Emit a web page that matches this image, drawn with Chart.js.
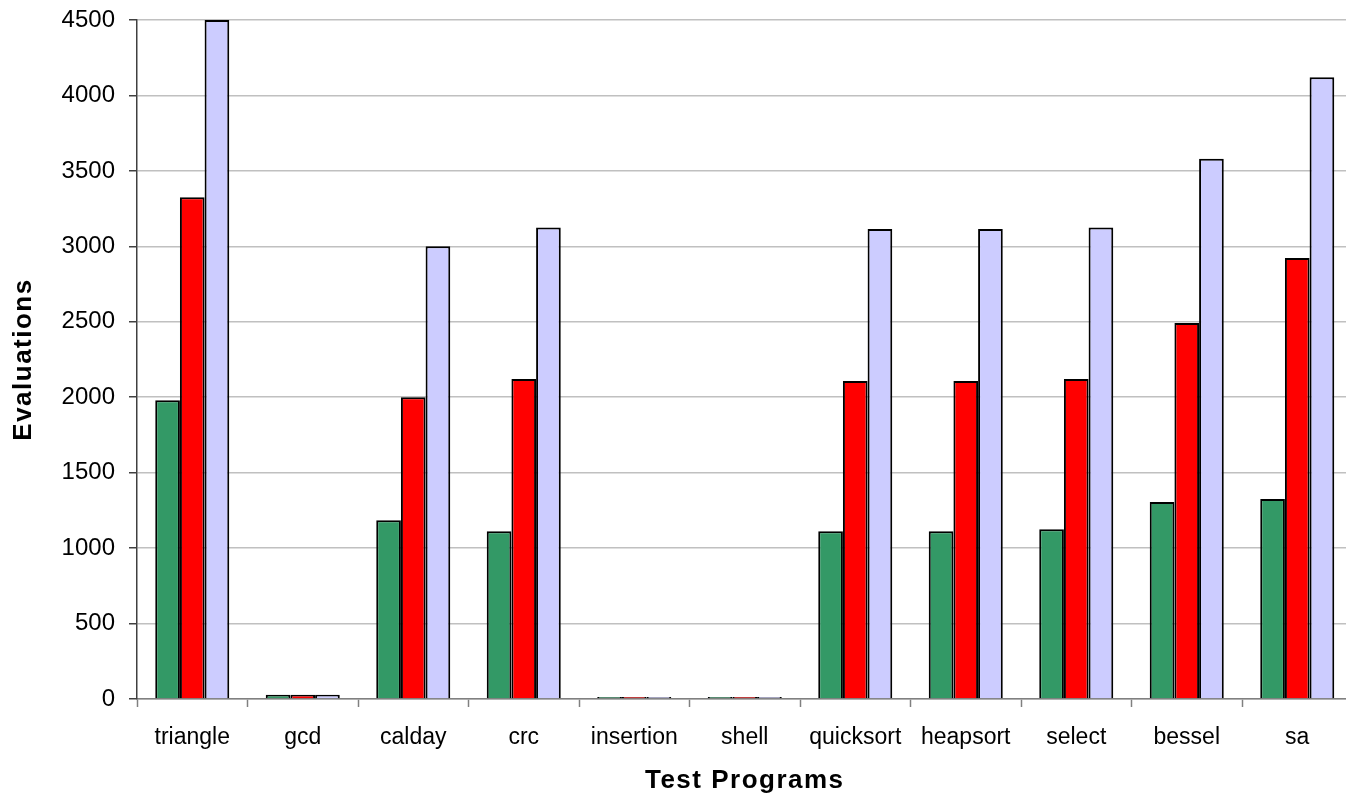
<!DOCTYPE html>
<html>
<head>
<meta charset="utf-8">
<script src="https://cdn.jsdelivr.net/npm/chart.js@4.4.0/dist/chart.umd.min.js"></script>
<style>
  html, body { margin: 0; padding: 0; overflow: hidden; background: #ffffff; }
  #wrap { width: 1354px; height: 799px; position: relative; }
</style>
</head>
<body>
<div id="wrap"><canvas id="chart"></canvas></div>
<script>
// Test programs on the x axis
const programs = ['triangle', 'gcd', 'calday', 'crc', 'insertion', 'shell',
                  'quicksort', 'heapsort', 'select', 'bessel', 'sa'];

// Evaluations per program, one array per series
const seriesGreen = [1980, 28, 1185, 1112, 14, 14, 1112, 1112, 1125, 1305, 1325];
const seriesRed   = [3325, 28, 2000, 2120, 14, 14, 2107, 2107, 2120, 2492, 2922];
const seriesBlue  = [4500, 28, 3000, 3125, 14, 14, 3115, 3115, 3125, 3580, 4120];

// Value axis ticks
const yTicks = [0, 500, 1000, 1500, 2000, 2500, 3000, 3500, 4000, 4500];

const FONT = "'Liberation Sans', Arial, sans-serif";

// Axis titles are drawn slightly letter-spaced
function spacedTitle(scale, spacing) {
  if (scale.$spaced) return;
  const orig = scale.drawTitle;
  scale.drawTitle = function () {
    const ctx = this.ctx;
    const prev = ctx.letterSpacing;
    ctx.letterSpacing = spacing;
    orig.apply(this, arguments);
    ctx.letterSpacing = prev || '0px';
  };
  scale.$spaced = true;
}

new Chart(document.getElementById('chart'), {
  type: 'bar',
  data: {
    labels: programs,
    datasets: [
      { label: 'Series 1', data: seriesGreen, backgroundColor: '#339966' },
      { label: 'Series 2', data: seriesRed,   backgroundColor: '#ff0000' },
      { label: 'Series 3', data: seriesBlue,  backgroundColor: '#ccccff' }
    ]
  },
  options: {
    responsive: true,
    maintainAspectRatio: false,
    animation: false,
    layout: { padding: { top: 20, right: 1.5, left: 0, bottom: 0 } },
    datasets: {
      bar: {
        borderColor: '#000000',
        borderWidth: 2,
        categoryPercentage: 0.67,
        barPercentage: 1.0
      }
    },
    plugins: {
      legend: { display: false },
      tooltip: { enabled: false }
    },
    scales: {
      x: {
        grid: {
          offset: true,
          drawOnChartArea: false,
          drawTicks: true,
          tickLength: 8,
          tickColor: '#808080',
          tickWidth: 1.5
        },
        border: { display: true, color: '#808080', width: 1.5 },
        ticks: {
          color: '#000000',
          font: { family: FONT, size: 23 },
          padding: 17,
          maxRotation: 0,
          autoSkip: false
        },
        title: {
          display: true,
          text: 'Test Programs',
          color: '#000000',
          font: { family: FONT, size: 26, weight: 'bold' },
          padding: { top: 0, bottom: 2.5 }
        },
        afterFit: (scale) => {
          scale.height = 100;
          spacedTitle(scale, '1.5px');
        }
      },
      y: {
        min: 0,
        max: 4500,
        afterBuildTicks: (scale) => { scale.ticks = yTicks.map(v => ({ value: v })); },
        grid: {
          color: '#c0c0c0',
          lineWidth: 1.5,
          drawTicks: true,
          tickLength: 8,
          tickColor: '#404040',
          tickWidth: 1.5
        },
        border: { display: true, color: '#404040', width: 1.5 },
        ticks: {
          color: '#000000',
          font: { family: FONT, size: 24 },
          padding: 14,
          callback: (value) => String(value)
        },
        title: {
          display: true,
          text: 'Evaluations',
          color: '#000000',
          font: { family: FONT, size: 26, weight: 'bold' },
          padding: { top: 8, bottom: 0 }
        },
        afterFit: (scale) => {
          scale.width = 137;
          scale.paddingTop = 0;
          scale.paddingBottom = 0;
          spacedTitle(scale, '1.5px');
        }
      }
    }
  }
});
</script>
</body>
</html>
